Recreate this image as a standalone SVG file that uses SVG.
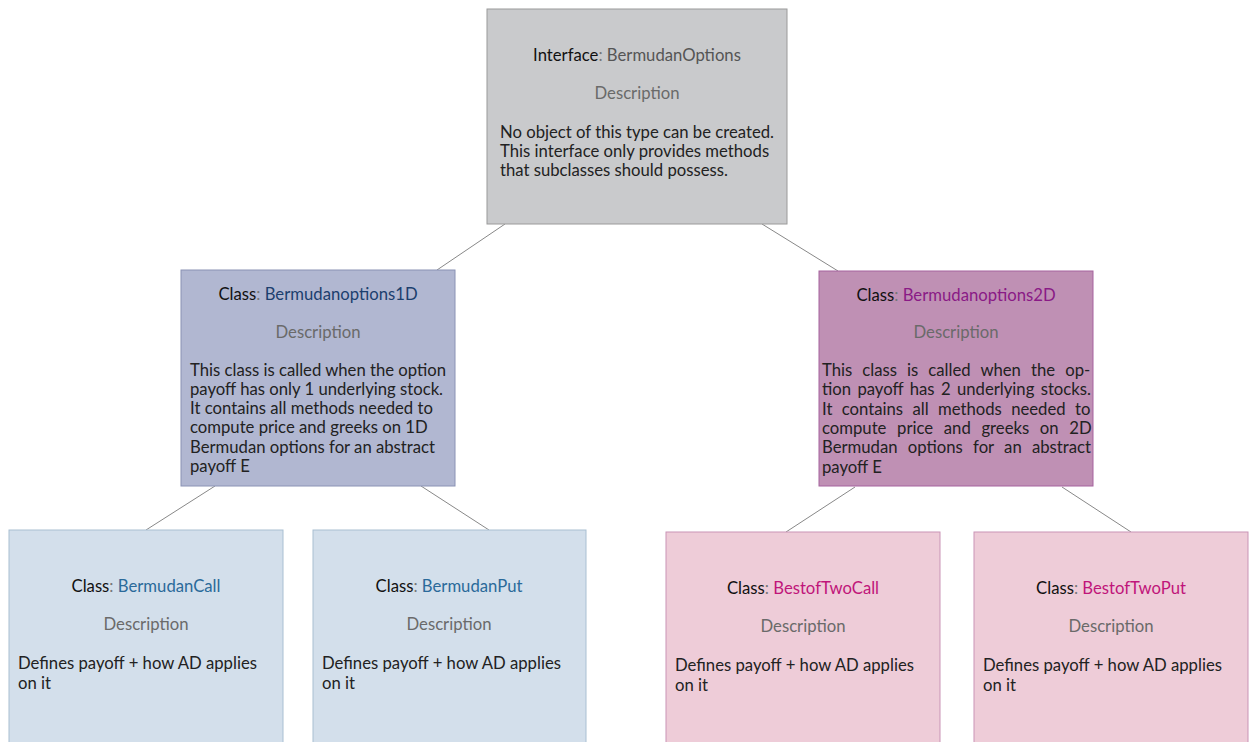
<svg xmlns="http://www.w3.org/2000/svg" width="1254" height="742" viewBox="0 0 1254 742">
<style>
text{font-family:Lato,"Open Sans","Liberation Sans",sans-serif;font-size:16.7px;fill:#222}
.c{text-anchor:middle}
.lbl{fill:#111}
.colon{fill:#777}
.desc{fill:#6a6a6a}
.nm-if{fill:#555}
.nm-1d{fill:#1c3f6e}
.nm-2d{fill:#8a1a86}
.nm-bl{fill:#2a6a9a}
.nm-pk{fill:#c0157a}
.edge{stroke:#888;stroke-width:1;fill:none}
</style>
<rect width="1254" height="742" fill="#ffffff"/>
<g id="connectors">
<line class="edge" x1="505" y1="224" x2="437" y2="270"/>
<line class="edge" x1="762" y1="224" x2="838" y2="271"/>
<line class="edge" x1="215" y1="486" x2="146" y2="530"/>
<line class="edge" x1="421" y1="486" x2="489" y2="530"/>
<line class="edge" x1="855" y1="487" x2="786" y2="532"/>
<line class="edge" x1="1062" y1="487" x2="1131" y2="532"/>
</g>
<g id="node-interface">
<rect x="487" y="9" width="300" height="215" fill="#c9cacc" stroke="#9a9a9a"/>
<text class="c" x="637" y="61"><tspan class="lbl">Interface</tspan><tspan class="colon">: </tspan><tspan class="nm-if">BermudanOptions</tspan></text>
<text class="c desc" x="637" y="99">Description</text>
<text x="500" y="138">No object of this type can be created.</text>
<text x="500" y="157">This interface only provides methods</text>
<text x="500" y="176">that subclasses should possess.</text>
</g>
<g id="node-1d">
<rect x="181" y="270" width="274" height="216" fill="#b1b7d1" stroke="#8a92b4"/>
<text class="c" x="318" y="300"><tspan class="lbl">Class</tspan><tspan class="colon">: </tspan><tspan class="nm-1d">Bermudanoptions1D</tspan></text>
<text class="c desc" x="318" y="338">Description</text>
<text x="190" y="376">This class is called when the option</text>
<text x="190" y="395">payoff has only 1 underlying stock.</text>
<text x="190" y="414">It contains all methods needed to</text>
<text x="190" y="433">compute price and greeks on 1D</text>
<text x="190" y="453">Bermudan options for an abstract</text>
<text x="190" y="472">payoff E</text>
</g>
<g id="node-2d">
<rect x="819" y="271" width="274" height="215" fill="#bf90b4" stroke="#a5639e"/>
<text class="c" x="956" y="301"><tspan class="lbl">Class</tspan><tspan class="colon">: </tspan><tspan class="nm-2d">Bermudanoptions2D</tspan></text>
<text class="c desc" x="956" y="338">Description</text>
<text x="822" y="376" word-spacing="5.8">This class is called when the op-</text>
<text x="822" y="395" word-spacing="2.1">tion payoff has 2 underlying stocks.</text>
<text x="822" y="415" word-spacing="5.1">It contains all methods needed to</text>
<text x="822" y="434" word-spacing="6.4">compute price and greeks on 2D</text>
<text x="822" y="453" word-spacing="6">Bermudan options for an abstract</text>
<text x="822" y="473">payoff E</text>
</g>
<g id="node-bermudancall">
<rect x="9" y="530" width="274" height="216" fill="#d3dfeb" stroke="#a9bfd2"/>
<text class="c" x="146" y="592"><tspan class="lbl">Class</tspan><tspan class="colon">: </tspan><tspan class="nm-bl">BermudanCall</tspan></text>
<text class="c desc" x="146" y="630">Description</text>
<text x="18" y="669">Defines payoff + how AD applies</text>
<text x="18" y="689">on it</text>
</g>
<g id="node-bermudanput">
<rect x="313" y="530" width="273" height="216" fill="#d3dfeb" stroke="#a9bfd2"/>
<text class="c" x="449" y="592"><tspan class="lbl">Class</tspan><tspan class="colon">: </tspan><tspan class="nm-bl">BermudanPut</tspan></text>
<text class="c desc" x="449" y="630">Description</text>
<text x="322" y="669">Defines payoff + how AD applies</text>
<text x="322" y="689">on it</text>
</g>
<g id="node-bestoftwocall">
<rect x="666" y="532" width="274" height="214" fill="#eeccd8" stroke="#c994b6"/>
<text class="c" x="803" y="594"><tspan class="lbl">Class</tspan><tspan class="colon">: </tspan><tspan class="nm-pk">BestofTwoCall</tspan></text>
<text class="c desc" x="803" y="632">Description</text>
<text x="675" y="671">Defines payoff + how AD applies</text>
<text x="675" y="691">on it</text>
</g>
<g id="node-bestoftwoput">
<rect x="974" y="532" width="274" height="214" fill="#eeccd8" stroke="#c994b6"/>
<text class="c" x="1111" y="594"><tspan class="lbl">Class</tspan><tspan class="colon">: </tspan><tspan class="nm-pk">BestofTwoPut</tspan></text>
<text class="c desc" x="1111" y="632">Description</text>
<text x="983" y="671">Defines payoff + how AD applies</text>
<text x="983" y="691">on it</text>
</g>
</svg>
